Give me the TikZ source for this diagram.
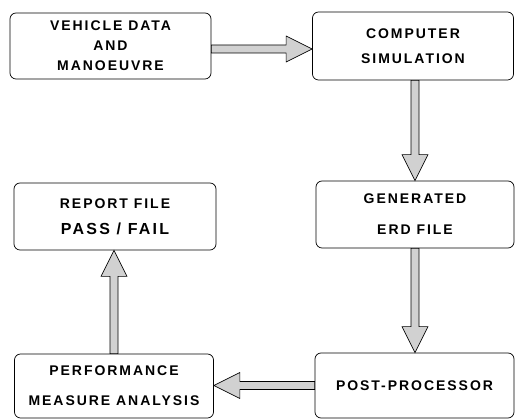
\documentclass[tikz,border=0pt]{standalone}
\usepackage{fontspec}
\setsansfont{Liberation Sans}[LetterSpace=14]
\usetikzlibrary{calc}

\tikzset{
  stage/.style={draw, rounded corners=6pt, line width=0.7pt, align=center,
    inner sep=0pt, font=\sffamily\bfseries\fontsize{14}{20}\selectfont},
  arrowfill/.style={draw, line width=0.6pt, fill=black!18},
}

% hollow block arrow from #1 to #2
\newcommand{\fatarrow}[2]{%
  \path let \p1=($(#2)-(#1)$), \n1={atan2(\y1,\x1)}, \n2={veclen(\x1,\y1)} in
    \pgfextra{\xdef\fatang{\n1}\xdef\fatlen{\n2}};
  \begin{scope}[shift={(#1)}, rotate=\fatang]
    \filldraw[arrowfill] (0,-4pt) -- (\fatlen-26,-4pt) -- (\fatlen-26,-13pt)
      -- (\fatlen,0pt) -- (\fatlen-26,13pt) -- (\fatlen-26,4pt) -- (0,4pt) -- cycle;
  \end{scope}}

\begin{document}
\begin{tikzpicture}[x=1pt, y=-1pt]
				\useasboundingbox (0,0) rectangle (515,419);
				\node[stage, minimum width=201pt, minimum height=66pt] (veh) at (110.5,46) {VEHICLE DATA\\AND\\MANOEUVRE};
				\node[stage, minimum width=201pt, minimum height=68pt] (sim) at (413,46) {COMPUTER\\[5pt]SIMULATION};
				\node[stage, minimum width=198pt, minimum height=67pt] (erd) at (415,214.5) {GENERATED\\[11pt]ERD FILE};
				\node[stage, minimum width=202pt, minimum height=67pt] (rep) at (115,216.5) {REPORT FILE\\[6pt]{\fontsize{16}{20}\selectfont PASS / FAIL}};
				\node[stage, minimum width=199pt, minimum height=64pt] (perf) at (114,386) {PERFORMANCE\\[10pt]MEASURE ANALYSIS};
				\node[stage, minimum width=199pt, minimum height=65pt] (post) at (414.5,385.5) {POST-PROCESSOR};
				\fatarrow{[yshift=-3pt]veh.east}{[yshift=-3pt]veh.east -| sim.west}
				\fatarrow{erd.north |- sim.south}{erd.north}
				\fatarrow{erd.south}{erd.south |- post.north}
				\fatarrow{post.west}{post.west -| perf.east}
				\fatarrow{perf.north}{perf.north |- rep.south}
			\end{tikzpicture}
\end{document}
